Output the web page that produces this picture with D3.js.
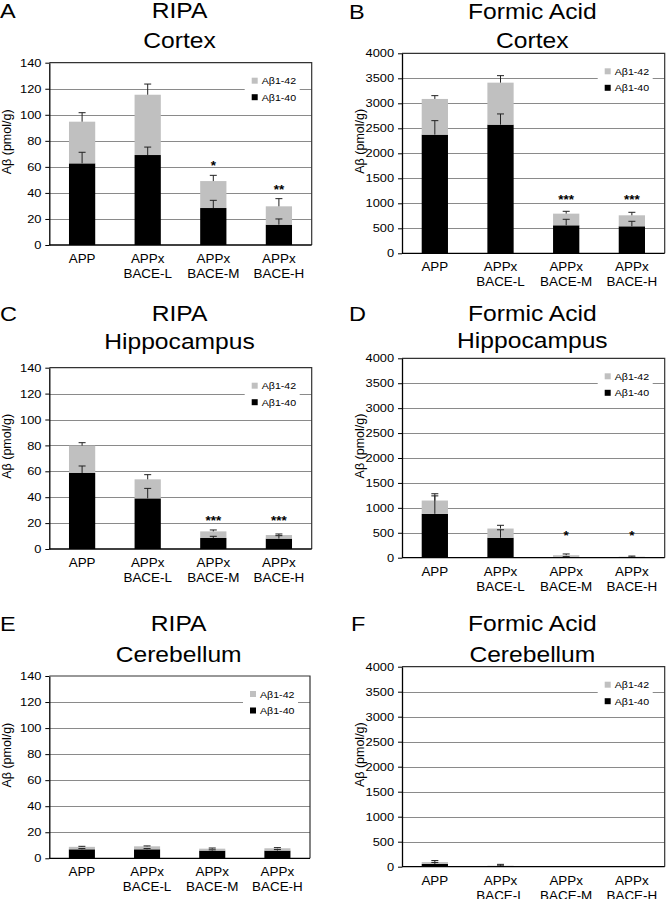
<!DOCTYPE html>
<html>
<head>
<meta charset="utf-8">
<script src="https://cdn.jsdelivr.net/npm/d3@7"></script>
<style>
  body { margin: 0; background: #fff; }
  text { font-family: "Liberation Sans", Arial, sans-serif; fill: #000; }
</style>
</head>
<body>
<script>
// categories shared by every panel
var categories = [["APP"], ["APPx", "BACE-L"], ["APPx", "BACE-M"], ["APPx", "BACE-H"]];
var seriesNames = ["Aβ1-42", "Aβ1-40"];

// A - RIPA cortex
var ripaCortex40 = [62.7, 69.1, 28.4, 15.6];
var ripaCortex42 = [32.0, 46.3, 20.7, 14.1];
var ripaCortexErr40 = [8.5, 6.1, 5.9, 4.4];
var ripaCortexErr42 = [6.9, 8.2, 4.4, 5.9];
var ripaCortexSig = ["", "", "*", "**"];
var ripaCortexSigAt = [0, 0, 57.6, 39.4];

// B - formic acid cortex
var faCortex40 = [2373, 2573, 560, 540];
var faCortex42 = [714, 840, 233, 220];
var faCortexErr40 = [280, 214, 120, 100];
var faCortexErr42 = [66, 140, 47, 60];
var faCortexSig = ["", "", "***", "***"];
var faCortexSigAt = [0, 0, 992, 992];

// C - RIPA hippocampus
var ripaHippo40 = [58.7, 39.1, 8.5, 8.0];
var ripaHippo42 = [21.1, 14.7, 5.1, 2.8];
var ripaHippoErr40 = [5.4, 7.7, 1.3, 2.3];
var ripaHippoErr42 = [2.3, 3.6, 1.1, 0.8];
var ripaHippoSig = ["", "", "***", "***"];
var ripaHippoSigAt = [0, 0, 18.2, 18.2];

// D - formic acid hippocampus
var faHippo40 = [880, 400, 12, 5];
var faHippo42 = [267, 185, 38, 15];
var faHippoErr40 = [360, 160, 10, 5];
var faHippoErr42 = [136, 65, 25, 13];
var faHippoSig = ["", "", "*", "*"];
var faHippoSigAt = [0, 0, 349, 349];

// E - RIPA cerebellum
var ripaCereb40 = [6.9, 6.9, 5.9, 5.9];
var ripaCereb42 = [1.9, 2.3, 1.5, 1.8];
var ripaCerebErr40 = [0.6, 0.6, 0.6, 0.8];
var ripaCerebErr42 = [0.4, 0.3, 0.5, 0.5];

// F - formic acid cerebellum
var faCereb40 = [55, 8, 1, 1];
var faCereb42 = [38, 12, 1, 1];
var faCerebErr40 = [30, 10, 0, 0];
var faCerebErr42 = [30, 27, 0, 0];

var noSig = ["", "", "", ""];
var noSigAt = [0, 0, 0, 0];

var ripaTicks = [0, 20, 40, 60, 80, 100, 120, 140];
var faTicks = [0, 500, 1000, 1500, 2000, 2500, 3000, 3500, 4000];

var stretch = 1.12;
var gray = "#c0c0c0";

var svg = d3.select("body")
  .append("svg")
  .attr("width", 666)
  .attr("height", 899);

var panels = [
  {letter: "A", t1: "RIPA", t2: "Cortex", ab40: ripaCortex40, ab42: ripaCortex42, e40: ripaCortexErr40, e42: ripaCortexErr42, sig: ripaCortexSig, sigAt: ripaCortexSigAt, ticks: ripaTicks,
   x0: 49.3, x1: 311.7, yTop: 62.7, yBot: 245, ty1: 18, ty2: 47.5, lx: 0},
  {letter: "B", t1: "Formic Acid", t2: "Cortex", ab40: faCortex40, ab42: faCortex42, e40: faCortexErr40, e42: faCortexErr42, sig: faCortexSig, sigAt: faCortexSigAt, ticks: faTicks,
   x0: 402, x1: 664.7, yTop: 53.3, yBot: 253.3, ty1: 18.5, ty2: 48.3, lx: 349},
  {letter: "C", t1: "RIPA", t2: "Hippocampus", ab40: ripaHippo40, ab42: ripaHippo42, e40: ripaHippoErr40, e42: ripaHippoErr42, sig: ripaHippoSig, sigAt: ripaHippoSigAt, ticks: ripaTicks,
   x0: 49.3, x1: 311.7, yTop: 367.7, yBot: 549, ty1: 320.7, ty2: 349, lx: 0},
  {letter: "D", t1: "Formic Acid", t2: "Hippocampus", ab40: faHippo40, ab42: faHippo42, e40: faHippoErr40, e42: faHippoErr42, sig: faHippoSig, sigAt: faHippoSigAt, ticks: faTicks,
   x0: 402, x1: 664.7, yTop: 358.3, yBot: 557.7, ty1: 320.7, ty2: 348, lx: 349},
  {letter: "E", t1: "RIPA", t2: "Cerebellum", ab40: ripaCereb40, ab42: ripaCereb42, e40: ripaCerebErr40, e42: ripaCerebErr42, sig: noSig, sigAt: noSigAt, ticks: ripaTicks,
   x0: 49.3, x1: 310, yTop: 676, yBot: 858.3, ty1: 630.7, ty2: 661.7, lx: 0},
  {letter: "F", t1: "Formic Acid", t2: "Cerebellum", ab40: faCereb40, ab42: faCereb42, e40: faCerebErr40, e42: faCerebErr42, sig: noSig, sigAt: noSigAt, ticks: faTicks,
   x0: 402, x1: 664.7, yTop: 666.7, yBot: 866.7, ty1: 630.7, ty2: 661.7, lx: 351}
];

// text helper, slightly wide like the source scan
function wideText(g, x, y, str, size, anchor) {
  return g.append("text")
    .attr("transform", `translate(${x},${y}) scale(${stretch},1)`)
    .attr("font-size", size)
    .attr("text-anchor", anchor || "middle")
    .text(str);
}

function drawPanel(p) {
  var g = svg.append("g");
  var yMax = p.ticks[p.ticks.length - 1];

  var x = d3.scaleBand()
    .domain(d3.range(categories.length))
    .range([p.x0, p.x1])
    .paddingInner(0.6)
    .paddingOuter(0.3);

  var y = d3.scaleLinear()
    .domain([0, yMax])
    .range([p.yBot, p.yTop]);

  // gridlines
  g.selectAll(".grid")
    .data(p.ticks.slice(1, -1))
    .join("line")
    .attr("x1", p.x0).attr("x2", p.x1)
    .attr("y1", d => Math.round(y(d)) + 0.5)
    .attr("y2", d => Math.round(y(d)) + 0.5)
    .attr("stroke", "#8a8a8a")
    .attr("stroke-width", 1);

  // frame top + right
  g.append("path")
    .attr("d", `M${p.x0},${p.yTop}H${p.x1}V${p.yBot}`)
    .attr("fill", "none")
    .attr("stroke", "#333")
    .attr("stroke-width", 1.2);

  // legend
  var lg = g.append("g");
  lg.append("rect")
    .attr("x", p.x1 - 67).attr("y", p.yTop + 9)
    .attr("width", 55).attr("height", 33)
    .attr("fill", "#fff");
  [gray, "#000"].forEach(function(c, i) {
    lg.append("rect")
      .attr("x", p.x1 - 60).attr("y", p.yTop + 15 + i * 16.5)
      .attr("width", 6).attr("height", 6)
      .attr("fill", c);
    wideText(lg, p.x1 - 50, p.yTop + 21.5 + i * 16.5, seriesNames[i], 9.5, "start");
  });

  var cx = i => x(i) + x.bandwidth() / 2;

  // stacked bars
  g.selectAll(".b40")
    .data(p.ab40)
    .join("rect")
    .attr("x", (d, i) => x(i))
    .attr("width", x.bandwidth())
    .attr("y", d => y(d))
    .attr("height", d => y(0) - y(d))
    .attr("fill", "#000");

  g.selectAll(".b42")
    .data(p.ab42)
    .join("rect")
    .attr("x", (d, i) => x(i))
    .attr("width", x.bandwidth())
    .attr("y", (d, i) => y(d + p.ab40[i]))
    .attr("height", (d, i) => y(p.ab40[i]) - y(d + p.ab40[i]))
    .attr("fill", gray);

  // error bars (upper only)
  var errs = [];
  p.ab40.forEach(function(v, i) {
    errs.push({i: i, base: v, top: v + p.e40[i]});
    var tot = v + p.ab42[i];
    errs.push({i: i, base: tot, top: tot + p.e42[i]});
  });
  errs = errs.filter(d => d.top > d.base);

  g.selectAll(".ev")
    .data(errs)
    .join("line")
    .attr("x1", d => cx(d.i)).attr("x2", d => cx(d.i))
    .attr("y1", d => y(d.base)).attr("y2", d => y(d.top))
    .attr("stroke", "#222").attr("stroke-width", 1);

  g.selectAll(".ec")
    .data(errs)
    .join("line")
    .attr("x1", d => cx(d.i) - 3.5).attr("x2", d => cx(d.i) + 3.5)
    .attr("y1", d => y(d.top)).attr("y2", d => y(d.top))
    .attr("stroke", "#222").attr("stroke-width", 1);

  // significance stars
  p.sig.forEach(function(s, i) {
    if (s) {
      wideText(g, cx(i), y(p.sigAt[i]), s, 12, "middle")
        .attr("font-weight", "bold");
    }
  });

  // y axis
  var yAxis = g.append("g")
    .attr("transform", `translate(${p.x0},0)`)
    .call(d3.axisLeft(y).tickValues(p.ticks).tickFormat(d3.format("d"))
      .tickSize(4).tickSizeOuter(0).tickPadding(3));
  yAxis.select(".domain").attr("stroke", "#000").attr("stroke-width", 1.3);
  yAxis.selectAll(".tick line").attr("stroke", "#000");
  yAxis.selectAll(".tick text")
    .attr("font-size", 11.5)
    .attr("font-family", "Liberation Sans, Arial, sans-serif")
    .attr("fill", "#000")
    .attr("transform", `scale(${stretch},1)`);

  // x axis line
  g.append("line")
    .attr("x1", p.x0).attr("x2", p.x1)
    .attr("y1", p.yBot).attr("y2", p.yBot)
    .attr("stroke", "#000").attr("stroke-width", 1.3);

  // category labels
  categories.forEach(function(lines, i) {
    lines.forEach(function(s, k) {
      wideText(g, cx(i), p.yBot + 18 + k * 15, s, 12, "middle");
    });
  });

  // y label
  g.append("text")
    .attr("transform", `translate(${p.x0 - 38},${(p.yTop + p.yBot) / 2 - 12}) rotate(-90)`)
    .attr("text-anchor", "middle")
    .attr("font-size", 12.5)
    .text("Aβ (pmol/g)");

  // titles + panel letter
  var mid = (p.x0 + p.x1) / 2 - 1;
  wideText(g, mid, p.ty1, p.t1, 22, "middle");
  wideText(g, mid, p.ty2, p.t2, 22, "middle");
  wideText(g, p.lx, p.ty1, p.letter, 21, "start");
}

panels.forEach(drawPanel);
</script>
</body>
</html>
